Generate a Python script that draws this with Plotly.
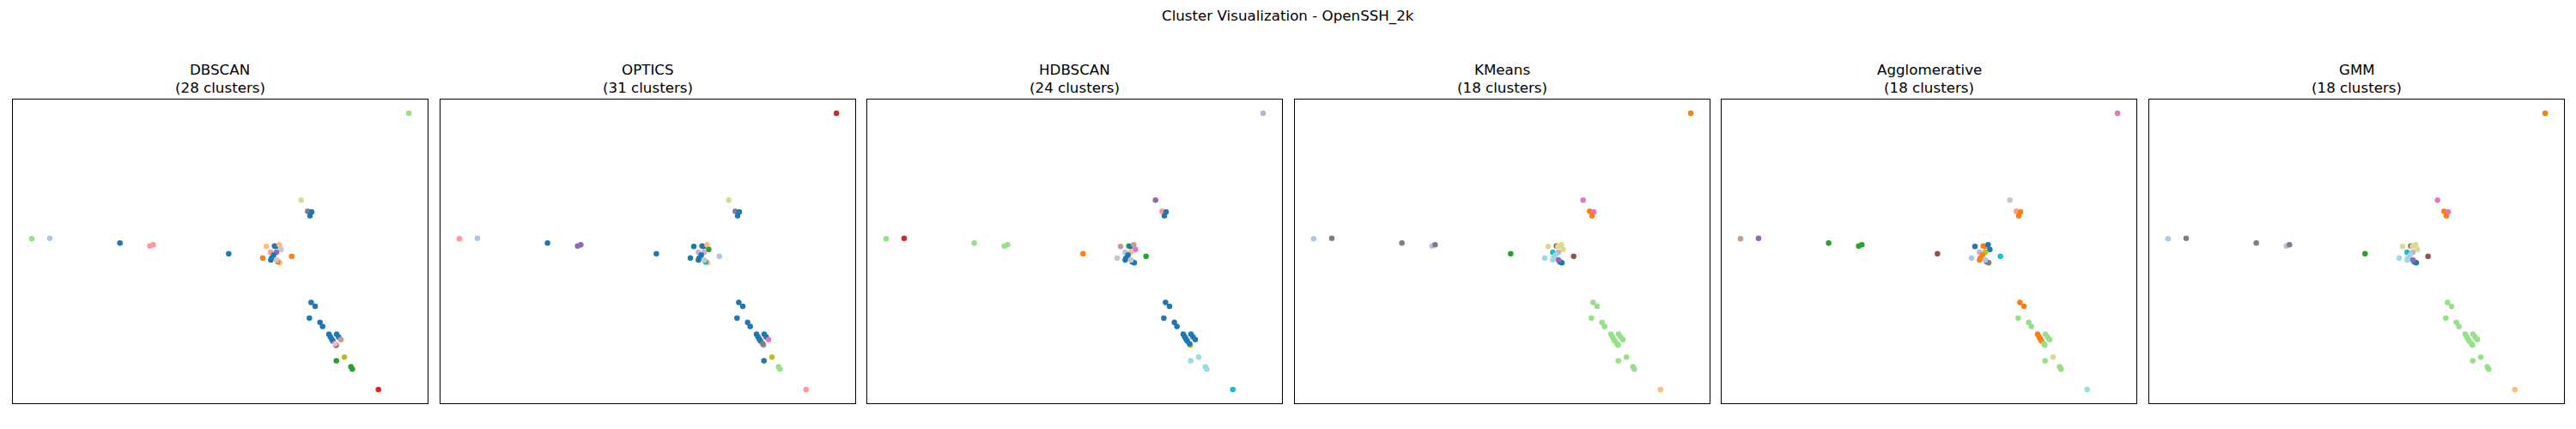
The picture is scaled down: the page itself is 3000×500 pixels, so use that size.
import plotly.graph_objects as go

# 2-D embedding of distinct log-template points (shared by all panels)
x_vals = [6.59, -6.58, -5.95, -3.50, -2.45, -2.34, 0.30, 2.83, 3.06, 3.20, 3.14,
          1.61, 1.90, 1.95, 2.07, 2.13, 1.77, 1.97, 1.87, 1.80, 1.77, 1.49, 2.50, 2.09, 2.02, 1.97,
          3.18, 3.32, 3.12, 3.49, 3.58, 3.80, 3.85, 3.90, 3.94, 4.07, 4.14, 4.22, 4.05, 4.02,
          4.34, 4.06, 4.57, 4.62, 5.53]
y_vals = [4.82, 0.44, 0.46, 0.29, 0.19, 0.23, -0.08, 1.79, 1.40, 1.38, 1.24,
          0.17, 0.19, 0.17, 0.23, 0.07, -0.03, -0.03, -0.13, -0.23, -0.30, -0.23, -0.17, -0.40, -0.37, -0.30,
          -1.78, -1.92, -2.33, -2.48, -2.62, -2.89, -2.98, -3.06, -3.13, -2.89, -2.99, -3.08, -3.27, -3.23,
          -3.69, -3.82, -4.03, -4.11, -4.82]

# tab20 colour index of each point's cluster label, per algorithm
labels_dbscan = [5, 5, 1, 0, 7, 7, 0, 17, 14, 0, 0,
                 3, 0, 0, 3, 15, 7, 8, 0, 0, 0, 2, 2, 17, 2, 15,
                 0, 0, 0, 0, 0, 0, 0, 0, 0, 0, 0, 11, 10, 13, 16, 4, 4, 4, 6]
labels_optics = [6, 7, 1, 0, 8, 8, 0, 17, 14, 0, 0,
                 0, 0, 0, 3, 4, 9, 9, 0, 0, 0, 0, 1, 3, 18, 15,
                 0, 0, 0, 0, 0, 0, 0, 0, 0, 0, 0, 12, 11, 14, 16, 0, 5, 5, 7]
labels_hdbscan = [9, 5, 6, 5, 5, 5, 2, 8, 7, 0, 0,
                  11, 4, 0, 11, 12, 1, 3, 0, 0, 0, 15, 4, 0, 0, 15,
                  0, 0, 0, 0, 0, 0, 0, 0, 0, 0, 0, 0, 16, 0, 19, 19, 19, 19, 18]
labels_kmeans = [2, 1, 14, 14, 1, 14, 4, 12, 2, 12, 2,
                 17, 10, 17, 17, 17, 18, 9, 19, 19, 19, 19, 10, 0, 0, 8,
                 5, 5, 5, 5, 5, 5, 5, 5, 5, 5, 5, 5, 5, 5, 5, 5, 5, 5, 3]
labels_agglo = [12, 11, 8, 4, 4, 4, 10, 15, 7, 2, 2,
                0, 2, 2, 0, 0, 9, 16, 2, 2, 2, 1, 18, 14, 14, 1,
                2, 2, 5, 5, 5, 2, 2, 2, 2, 5, 5, 5, 5, 5, 17, 5, 5, 5, 19]
labels_gmm = [2, 1, 14, 14, 1, 14, 4, 12, 2, 12, 2,
              17, 10, 17, 17, 17, 18, 9, 19, 19, 19, 19, 10, 0, 0, 8,
              5, 5, 5, 5, 5, 5, 5, 5, 5, 5, 5, 5, 5, 5, 5, 5, 5, 5, 3]

algorithms = ["DBSCAN", "OPTICS", "HDBSCAN", "KMeans", "Agglomerative", "GMM"]
n_clusters = [28, 31, 24, 18, 18, 18]
all_labels = [labels_dbscan, labels_optics, labels_hdbscan, labels_kmeans, labels_agglo, labels_gmm]

tab20 = ["#1f77b4", "#aec7e8", "#ff7f0e", "#ffbb78", "#2ca02c", "#98df8a", "#d62728", "#ff9896",
         "#9467bd", "#c5b0d5", "#8c564b", "#c49c94", "#e377c2", "#f7b6d2", "#7f7f7f", "#c7c7c7",
         "#bcbd22", "#dbdb8d", "#17becf", "#9edae5"]

W, H = 3000, 500
OFF = 8  # page body margin of the html page
panel_left = [15, 513, 1010, 1508, 2005, 2503]
panel_w = 483
panel_top, panel_bottom = 116, 470

def pad_range(v):
    lo, hi = min(v), max(v)
    p = (hi - lo) * 0.05
    return [lo - p, hi + p]

xr = pad_range(x_vals)
yr = pad_range(y_vals)

def px_x(p):
    return (p - OFF) / W

def px_y(p):
    return 1 - (p - OFF) / H

FONT = "DejaVu Sans"
fig = go.Figure()
annotations = []
layout = {}
for i, (name, nc, labs) in enumerate(zip(algorithms, n_clusters, all_labels)):
    k = "" if i == 0 else str(i + 1)
    fig.add_trace(go.Scatter(
        x=x_vals, y=y_vals, mode="markers",
        marker=dict(size=6.5, color=[tab20[c] for c in labs], line=dict(width=0)),
        xaxis="x" + k, yaxis="y" + k, showlegend=False, hoverinfo="skip"))
    x0 = px_x(panel_left[i])
    x1 = px_x(panel_left[i] + panel_w)
    y0 = px_y(panel_bottom)
    y1 = px_y(panel_top)
    ax = dict(showgrid=False, zeroline=False, showticklabels=False, ticks="",
              showline=True, mirror=True, linecolor="black", linewidth=1.1)
    layout["xaxis" + k] = dict(ax, domain=[x0, x1], range=xr, anchor="y" + k)
    layout["yaxis" + k] = dict(ax, domain=[y0, y1], range=yr, anchor="x" + k)
    xc = (x0 + x1) / 2
    annotations.append(dict(text=name, x=xc, y=px_y(81), xref="paper", yref="paper",
                            xanchor="center", yanchor="middle", showarrow=False,
                            font=dict(family=FONT, size=16.7, color="black")))
    annotations.append(dict(text=f"({nc} clusters)", x=xc, y=px_y(102), xref="paper", yref="paper",
                            xanchor="center", yanchor="middle", showarrow=False,
                            font=dict(family=FONT, size=16.7, color="black")))

annotations.append(dict(text="Cluster Visualization - OpenSSH_2k", x=px_x(1500), y=px_y(18),
                        xref="paper", yref="paper", xanchor="center", yanchor="middle",
                        showarrow=False, font=dict(family=FONT, size=16.7, color="black")))

fig.update_layout(width=W, height=H, margin=dict(l=0, r=0, t=0, b=0),
                  paper_bgcolor="white", plot_bgcolor="white",
                  annotations=annotations, **layout)
fig.write_html("out.html")
